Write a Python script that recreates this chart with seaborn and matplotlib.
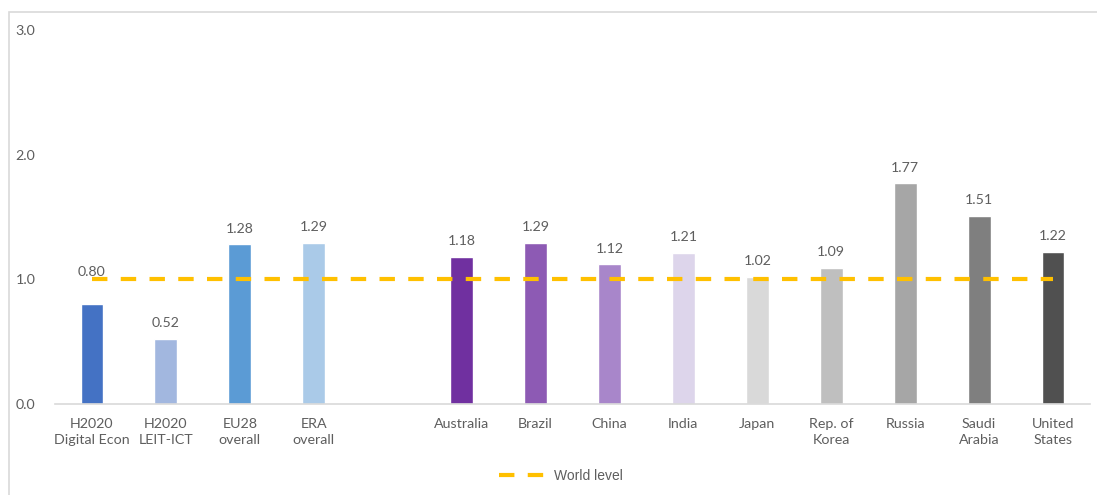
import numpy as np
import pandas as pd
import matplotlib
matplotlib.use("Agg")
import matplotlib.pyplot as plt
from matplotlib.lines import Line2D
from matplotlib.patches import Rectangle
import seaborn as sns

# Relative activity by programme / country (world level = 1.0)
categories = [
    "H2020\nDigital Econ", "H2020\nLEIT-ICT", "EU28\noverall", "ERA\noverall", " ",
    "Australia", "Brazil", "China", "India", "Japan",
    "Rep. of\nKorea", "Russia", "Saudi\nArabia", "United\nStates",
]
values = [0.80, 0.52, 1.28, 1.29, np.nan,
          1.18, 1.29, 1.12, 1.21, 1.02,
          1.09, 1.77, 1.51, 1.22]
bar_colors = [
    "#4472C4", "#A2B7DF", "#5B9BD5", "#AACAE8", "#FFFFFF",
    "#7030A0", "#8D5AB4", "#A886CA", "#DDD5EB", "#D9D9D9",
    "#BFBFBF", "#A6A6A6", "#7F7F7F", "#505050",
]
world_level = 1.0
y_ticks = [0.0, 1.0, 2.0, 3.0]
legend_label = "World level"

TEXT = "#5E5E5E"
GOLD = "#FFC000"

sns.set_theme(style="white")
plt.rcParams["font.family"] = ["Lato", "DejaVu Sans"]

df = pd.DataFrame({"category": categories, "value": values})
palette = dict(zip(categories, bar_colors))

fig = plt.figure(figsize=(10.97, 4.95), dpi=100)
ax = fig.add_axes([55 / 1097, 1 - 404 / 495, (1090 - 55) / 1097, (404 - 30) / 495])

sns.barplot(data=df, x="category", y="value", hue="category", order=categories,
            hue_order=categories, palette=palette, width=0.31, legend=False,
            saturation=1, ax=ax)

# Value labels above each bar
for i, v in enumerate(values):
    if np.isnan(v):
        continue
    lift = 19 if i == 0 else 7
    ax.annotate(f"{v:.2f}", (i, v), xytext=(0, lift), textcoords="offset points",
                ha="center", va="bottom", fontsize=10.2, color=TEXT, zorder=2)

# World reference line across all categories
xs = np.arange(len(categories))
ax.plot(xs, np.full(len(categories), world_level), color=GOLD, lw=3.0,
        dashes=(3.7, 3.2), dash_capstyle="butt", zorder=5)

ax.set_xlim(-0.5, len(categories) - 0.5)
ax.set_ylim(0, 3)
ax.set_yticks(y_ticks)
ax.set_yticklabels([f"{t:.1f}" for t in y_ticks])
ax.set_xlabel("")
ax.set_ylabel("")
ax.tick_params(axis="both", length=0, colors=TEXT, labelsize=10.3)
ax.tick_params(axis="y", pad=14)
ax.tick_params(axis="x", pad=10)
for lbl in ax.get_xticklabels():
    lbl.set_linespacing(1.4)

for side in ["top", "right", "left"]:
    ax.spines[side].set_visible(False)
ax.spines["bottom"].set_color("#D9D9D9")
ax.spines["bottom"].set_linewidth(1.2)

handle = Line2D([], [], color=GOLD, lw=3.0, dashes=(3.7, 3.2), dash_capstyle="butt")
leg = fig.legend([handle], [legend_label], loc="center", bbox_to_anchor=(561 / 1097, 1 - 476 / 495),
                 frameon=False, fontsize=10, handlelength=3.4, handletextpad=0.5)
for t in leg.get_texts():
    t.set_color(TEXT)
    t.set_family(["Liberation Sans", "DejaVu Sans"])

# Chart-area frame
fig.patches.append(Rectangle((9 / 1097, -0.1), 1.2, 1 - 12 / 495 + 0.1,
                             transform=fig.transFigure, fill=False,
                             edgecolor="#D9D9D9", lw=1.2, zorder=0))

fig.savefig("out.png", dpi=100)
